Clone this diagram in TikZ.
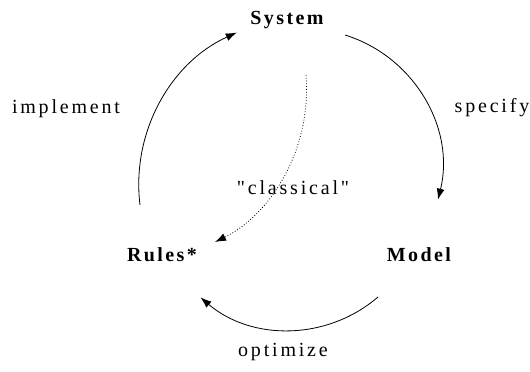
\documentclass[tikz,border=0pt]{standalone}
\usepackage{fontspec}
\setmainfont{Liberation Serif}[Ligatures=TeXOff]
\usetikzlibrary{arrows.meta}

\tikzset{
    stage/.style={draw=none, inner sep=0pt, node font=\fontsize{20}{24}\selectfont\bfseries\addfontfeature{LetterSpace=12}},
    verb/.style={draw=none, inner sep=0pt, node font=\fontsize{20}{24}\selectfont\addfontfeature{LetterSpace=14}},
    cycle/.style={line width=0.8pt, -{Latex[length=11pt,width=8pt]}},
    shortcut/.style={line width=0.8pt, dotted, -{Latex[length=11pt,width=8pt]}}
}

\begin{document}
\begin{tikzpicture}[x=1pt, y=1pt]
    \useasboundingbox (0,0) rectangle (530,372);

    \node[stage] (system) at (287,352) {System};
    \node[stage] (model) at (419,117) {Model};
    \node[stage] (rules) at (162,117) {Rules*};

    \node[verb] (specify) at (492,264) {specify};
    \node[verb] (implement) at (66,263) {implement};
    \node[verb] (optimize) at (283,20) {optimize};
    \node[verb] (classical) at (293,184) {"classical"};

    \coordinate (sysright) at (345,337);
    \coordinate (rulesleft) at (140,167);
    \coordinate (modelbelow) at (378,75);
    \coordinate (sysbelow) at (306,297);
    \coordinate (rulesabove) at (215,130);

    \draw[cycle] (sysright) arc[start angle=72.7, end angle=-13.8, radius=138];
    \draw[cycle] (modelbelow) arc[start angle=310.7, end angle=229.6, radius=136.5];
    \draw[cycle] (rulesleft) arc[start angle=187, end angle=114.4, radius=167];

    \draw[shortcut] (sysbelow) .. controls (312,222) and (270,157) .. (rulesabove);

\end{tikzpicture}
\end{document}
